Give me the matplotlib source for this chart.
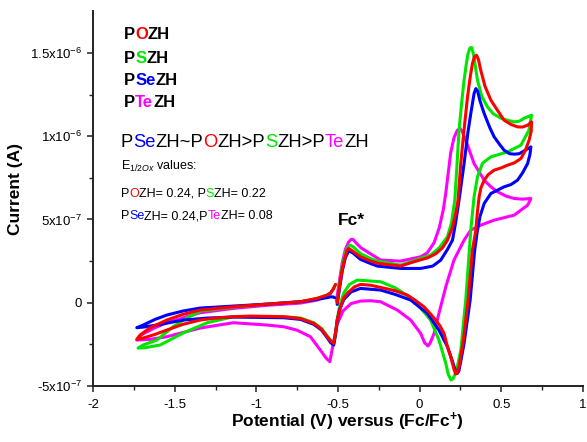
import numpy as np
import matplotlib
matplotlib.use('Agg')
import matplotlib.pyplot as plt
from matplotlib.font_manager import FontProperties

plt.rcParams['font.family'] = ['Liberation Sans', 'DejaVu Sans']
plt.rcParams['mathtext.fontset'] = 'custom'
plt.rcParams['mathtext.rm'] = 'Liberation Sans'
plt.rcParams['mathtext.it'] = 'Liberation Sans:italic'
plt.rcParams['mathtext.bf'] = 'Liberation Sans:bold'
plt.rcParams['axes.unicode_minus'] = False

# currents are read in units of 1e-7 A
CUR_UNIT = 1e-7

# POZH (red): forward sweep, reverse sweep, return to start
pozh_v = [-0.505, -0.49, -0.474, -0.455, -0.444, -0.434, -0.41, -0.362, -0.30, -0.25,
          -0.117, -0.035, 0.05, 0.10, 0.14, 0.170, 0.20, 0.221, 0.235, 0.252, 0.272,
          0.293, 0.310, 0.323, 0.335, 0.348, 0.360, 0.374, 0.40, 0.436, 0.48, 0.517,
          0.56, 0.599, 0.63, 0.661, 0.685,
          0.683, 0.67, 0.645, 0.620, 0.58, 0.538, 0.50, 0.456, 0.42, 0.395, 0.375,
          0.364, 0.354, 0.344, 0.323, 0.296, 0.268, 0.250, 0.241, 0.230, 0.221, 0.210,
          0.190, 0.170, 0.149, 0.125, 0.098, 0.06, 0.026, -0.035, -0.076, -0.15, -0.239,
          -0.30, -0.362, -0.40, -0.44, -0.464, -0.485, -0.505, -0.515, -0.526, -0.545,
          -0.566, -0.60, -0.648, -0.73, -0.833, -1.037, -1.141, -1.25, -1.344, -1.45,
          -1.548, -1.62, -1.693, -1.732,
          -1.712, -1.65, -1.548, -1.45, -1.344, -1.141, -0.93, -0.730, -0.628, -0.57,
          -0.546, -0.53, -0.515]
pozh_i = [0.0, 1.0, 2.0, 2.8, 3.16, 3.26, 3.1, 2.76, 2.5, 2.36,
          2.20, 2.46, 2.7, 2.95, 3.3, 3.76, 4.5, 5.38, 6.16, 8.38, 10.4,
          12.36, 13.6, 14.36, 14.75, 14.86, 14.6, 13.96, 13.0, 12.16, 11.5, 10.96,
          10.7, 10.56, 10.55, 10.66, 10.86,
          10.3, 9.76, 9.1, 8.66, 8.4, 8.26, 8.1, 7.96, 7.7, 7.36, 6.9,
          6.36, 5.5, 4.36, 3.16, 0.16, -2.24, -3.3, -3.84, -4.2, -4.28, -4.0,
          -3.24, -2.64, -1.84, -1.4, -1.04, -0.6, -0.24, 0.2, 0.46, 0.72, 0.92,
          1.05, 1.1, 0.95, 0.6, 0.3, -0.3, -1.04, -1.8, -2.44, -2.3,
          -2.04, -1.6, -1.24, -0.95, -0.84, -0.80, -0.84, -0.92, -1.04, -1.3,
          -1.64, -1.9, -2.12, -2.20,
          -1.94, -1.5, -1.04, -0.7, -0.44, -0.24, -0.08, 0.06, 0.26, 0.45,
          0.58, 0.8, 1.1]

# PSZH (green)
pszh_v = [-0.505, -0.49, -0.474, -0.455, -0.435, -0.423, -0.40, -0.362, -0.30, -0.259,
          -0.117, 0.067, 0.12, 0.170, 0.195, 0.215, 0.228, 0.241, 0.258, 0.272, 0.285,
          0.296, 0.308, 0.319, 0.33, 0.354, 0.38, 0.415, 0.45, 0.497, 0.54, 0.579,
          0.61, 0.640, 0.665, 0.685,
          0.669, 0.620, 0.538, 0.436, 0.385, 0.354, 0.333, 0.313, 0.282, 0.252, 0.225,
          0.205, 0.192, 0.175, 0.160, 0.118, 0.067, -0.035, -0.15, -0.239, -0.382,
          -0.43, -0.464, -0.49, -0.505, -0.515, -0.526, -0.545, -0.566, -0.60, -0.648,
          -0.73, -0.833, -1.141, -1.30, -1.448, -1.589, -1.68, -1.724,
          -1.693, -1.609, -1.509, -1.425, -1.344, -1.141, -0.93, -0.730, -0.628, -0.57,
          -0.546, -0.53, -0.515]
pszh_i = [0.0, 1.1, 2.2, 3.0, 3.4, 3.46, 3.3, 2.95, 2.65, 2.5,
          2.26, 2.86, 3.3, 3.96, 4.8, 6.16, 8.2, 10.36, 12.1, 13.36, 14.3,
          14.96, 15.3, 15.32, 14.9, 13.36, 12.4, 11.76, 11.35, 11.08, 10.95, 10.86,
          10.9, 11.08, 11.18, 11.26,
          10.36, 9.46, 9.06, 8.76, 8.38, 7.56, 6.36, 4.36, 0.16, -2.84, -4.1,
          -4.55, -4.64, -4.3, -3.64, -2.24, -1.04, 0.16, 0.9, 1.26, 1.36,
          1.1, 0.6, -0.2, -1.0, -1.8, -2.42, -2.25, -2.0, -1.55, -1.2,
          -0.92, -0.84, -0.84, -1.2, -1.82, -2.54, -2.7, -2.72,
          -2.54, -2.24, -1.44, -0.92, -0.5, -0.26, -0.08, 0.06, 0.26, 0.45,
          0.58, 0.8, 1.1]

# PSeZH (blue)
psezh_v = [-0.505, -0.49, -0.474, -0.455, -0.434, -0.41, -0.362, -0.30, -0.259,
           -0.117, 0.006, 0.08, 0.129, 0.17, 0.201, 0.22, 0.241, 0.272, 0.295, 0.313,
           0.333, 0.344, 0.355, 0.37, 0.395, 0.43, 0.456, 0.49, 0.517, 0.55, 0.579,
           0.61, 0.640, 0.681,
           0.675, 0.661, 0.63, 0.599, 0.56, 0.517, 0.436, 0.395, 0.37, 0.354, 0.337,
           0.309, 0.272, 0.250, 0.240, 0.231, 0.22, 0.20, 0.170, 0.118, 0.047, -0.055,
           -0.15, -0.239, -0.362, -0.42, -0.464, -0.49, -0.505, -0.515, -0.526, -0.545,
           -0.566, -0.60, -0.648, -0.73, -0.833, -1.141, -1.30, -1.448, -1.609, -1.69,
           -1.732,
           -1.693, -1.62, -1.548, -1.45, -1.344, -1.141, -0.93, -0.730, -0.628, -0.57,
           -0.546, -0.53, -0.52]
psezh_i = [-0.1, 0.9, 1.9, 2.7, 3.12, 3.0, 2.6, 2.35, 2.2,
           2.06, 2.06, 2.2, 2.56, 3.2, 3.76, 4.8, 6.16, 8.36, 10.2, 11.36,
           12.56, 12.86, 12.7, 12.1, 11.36, 10.5, 9.96, 9.5, 9.16, 8.95, 8.92,
           8.95, 9.12, 9.36,
           8.9, 8.36, 7.8, 7.36, 7.1, 6.96, 6.56, 5.96, 5.2, 4.36, 3.16,
           0.16, -2.44, -3.6, -4.1, -4.24, -4.1, -3.5, -2.64, -1.64, -0.64, 0.16,
           0.5, 0.76, 0.86, 0.65, 0.2, -0.4, -1.1, -1.9, -2.54, -2.4,
           -2.1, -1.65, -1.3, -1.0, -0.9, -0.86, -0.92, -1.04, -1.34, -1.46,
           -1.50,
           -1.34, -1.0, -0.74, -0.5, -0.32, -0.20, -0.08, 0.06, 0.2, 0.3,
           0.35, 0.35, 0.3]

# PTeZH (magenta)
ptezh_v = [-0.51, -0.49, -0.474, -0.455, -0.435, -0.42, -0.407, -0.39, -0.36, -0.321,
           -0.239, -0.117, 0.006, 0.047, 0.088, 0.12, 0.145, 0.16, 0.175, 0.19, 0.21,
           0.23, 0.247, 0.26, 0.282, 0.333, 0.395, 0.436, 0.477, 0.53, 0.579, 0.63,
           0.681,
           0.661, 0.579, 0.456, 0.374, 0.313, 0.272, 0.210, 0.160, 0.118, 0.088, 0.065,
           0.051, 0.03, 0.006, -0.055, -0.137, -0.239, -0.30, -0.362, -0.42, -0.47,
           -0.505, -0.53, -0.55, -0.575, -0.60, -0.669, -0.75, -0.833, -0.934, -1.141,
           -1.344, -1.548, -1.65, -1.732,
           -1.70, -1.62, -1.548, -1.344, -1.141, -0.93, -0.730, -0.628, -0.57, -0.546,
           -0.525]
ptezh_i = [0.1, 1.4, 2.4, 3.2, 3.65, 3.8, 3.80, 3.6, 3.3, 3.06,
           2.56, 2.50, 2.76, 3.0, 3.6, 4.5, 5.6, 6.6, 7.8, 9.0, 9.9,
           10.35, 10.46, 10.3, 9.76, 8.36, 7.36, 6.96, 6.66, 6.4, 6.26, 6.22,
           6.26,
           5.86, 5.26, 4.96, 4.66, 4.36, 3.76, 2.56, 0.96, -0.64, -1.84, -2.4,
           -2.60, -2.4, -1.84, -1.04, -0.44, 0.06, 0.12, 0.1, -0.05, -0.5,
           -1.3, -2.5, -3.54, -3.3, -2.95, -2.04, -1.65, -1.44, -1.34, -1.20,
           -1.52, -2.04, -2.2, -2.24,
           -1.9, -1.5, -1.2, -0.6, -0.34, -0.15, -0.02, 0.16, 0.4, 0.55,
           0.9]

x_ticks = [-2, -1.5, -1, -0.5, 0, 0.5, 1]
x_ticklabels = ['-2', '-1.5', '-1', '-0.5', '0', '0.5', '1']
y_ticks = [-5e-7, 0, 5e-7, 1e-6, 1.5e-6]
y_ticklabels = ['-5x10$^{-7}$', '0', '5x10$^{-7}$', '1x10$^{-6}$', '1.5x10$^{-6}$']

RED = '#ff0000'
GREEN = '#00e600'
BLUE = '#0000ff'
MAGENTA = '#ff00ff'
FAMILY = ['Liberation Sans', 'DejaVu Sans']

W, H = 587, 442
fig = plt.figure(figsize=(W / 100, H / 100), dpi=100)
ax = fig.add_axes([93 / W, 56 / H, 490 / W, 374.7 / H])
renderer = fig.canvas.get_renderer()


def fig_xy(px, py):
    # pixel position (from the top left) to figure fraction
    return px / W, 1 - py / H


curves = [(ptezh_v, ptezh_i, MAGENTA), (pszh_v, pszh_i, GREEN),
          (psezh_v, psezh_i, BLUE), (pozh_v, pozh_i, RED)]
for v, i, c in curves:
    ax.plot(v, np.array(i) * CUR_UNIT, color=c, lw=2.2, solid_joinstyle='round',
            solid_capstyle='round')

ax.set_xlim(-2, 1)
ax.set_ylim(-5e-7, 1.75e-6)
ax.set_xticks(x_ticks)
ax.set_xticklabels(x_ticklabels)
ax.set_yticks(y_ticks)
ax.set_yticklabels(y_ticklabels)
ax.set_xticks(np.arange(-1.75, 1.0, 0.5), minor=True)
ax.set_yticks(np.arange(-2.5e-7, 1.75e-6, 5e-7), minor=True)
for s in ['top', 'right']:
    ax.spines[s].set_visible(False)
for s in ['left', 'bottom']:
    ax.spines[s].set_linewidth(1.4)
    ax.spines[s].set_color('#222222')
ax.tick_params(which='major', direction='out', length=4.5, width=1.1, labelsize=9.5,
               color='#222222')
ax.tick_params(which='minor', direction='out', length=2.6, width=1.0, color='#222222')
ax.tick_params(axis='x', pad=4.5)
ax.tick_params(axis='y', pad=3.5)

x, y = fig_xy(16, 189)
fig.text(x, y, 'Current (A)', rotation=90, ha='center', va='center',
         fontsize=12.5, fontweight='bold')
x, y = fig_xy(347, 426.7)
fig.text(x, y, r'Potential (V) versus (Fc/Fc$^{\mathbf{+}}$)', ha='center',
         va='baseline', fontsize=12.5, fontweight='bold')


def colored_text(px, py, pieces, size, weight='normal'):
    # each piece goes where it would sit inside the whole string
    x0, y = fig_xy(px, py)
    prop = FontProperties(family=FAMILY, size=size, weight=weight)
    prefix = ''
    for s, c in pieces:
        offset = 0
        if prefix:
            w_all = renderer.get_text_width_height_descent(prefix + s, prop, ismath=False)[0]
            w_s = renderer.get_text_width_height_descent(s, prop, ismath=False)[0]
            offset = w_all - w_s
        fig.text(x0 + offset / W, y, s, color=c, fontproperties=prop,
                 va='baseline', ha='left')
        prefix += s


K = 'black'
colored_text(124, 39.3, [('P', K), ('O', RED), ('ZH', K)], 12, 'bold')
colored_text(124, 62.7, [('P', K), ('S', GREEN), ('ZH', K)], 12, 'bold')
colored_text(124, 85, [('P', K), ('Se', BLUE), ('ZH', K)], 12, 'bold')
colored_text(124, 107.3, [('P', K), ('Te', MAGENTA), ('ZH', K)], 12, 'bold')

colored_text(120.7, 146.7,
             [('P', K), ('Se', BLUE), ('ZH~P', K), ('O', RED), ('ZH>P', K),
              ('S', GREEN), ('ZH>P', K), ('Te', MAGENTA), ('ZH', K)], 13.2)

x, y = fig_xy(120.7, 170)
fig.text(x, y, r'E$_{1/2Ox}$ values:', fontsize=9, va='baseline', ha='left')
colored_text(120.7, 196.7, [('P', K), ('O', RED), ('ZH= 0.24, P', K),
                            ('S', GREEN), ('ZH= 0.22', K)], 9)
colored_text(120.7, 219.3, [('P', K), ('Se', BLUE), ('ZH= 0.24,P', K),
                            ('Te', MAGENTA), ('ZH= 0.08', K)], 9)

x, y = fig_xy(337.7, 225)
fig.text(x, y, 'Fc*', fontsize=12.5, fontweight='bold', va='baseline', ha='left')

fig.savefig('out.png', dpi=100)
